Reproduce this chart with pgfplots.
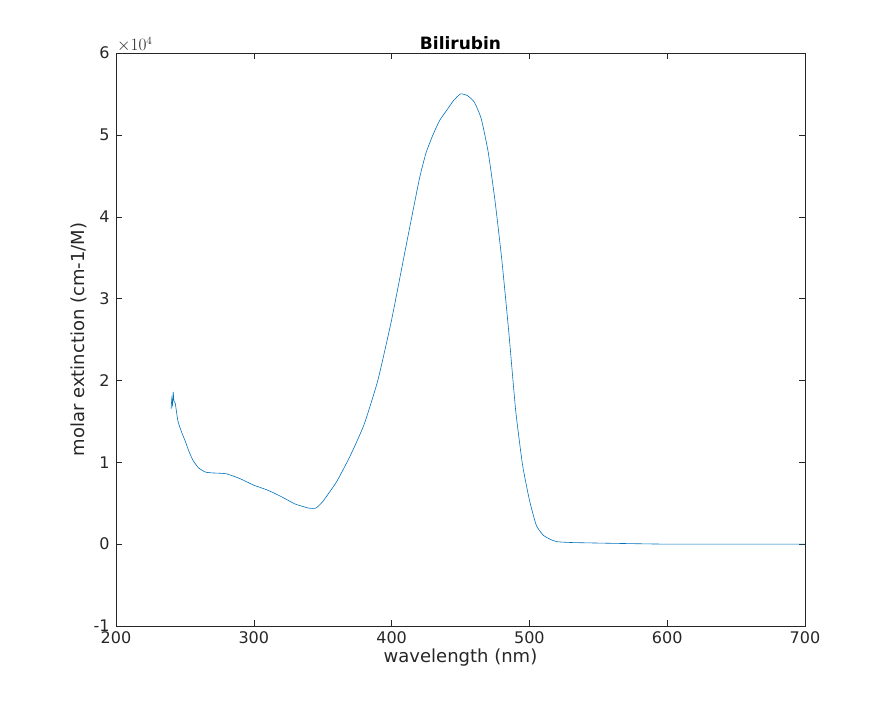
\documentclass[border=0pt]{standalone}
\usepackage{pgfplots}
\pgfplotsset{compat=1.18}
\usepackage{fontspec}
\setmainfont{DejaVu Sans}
\definecolor{mblue}{RGB}{0,114,189}
\definecolor{tgray}{RGB}{38,38,38}
\begin{document}
\begin{tikzpicture}[x=1pt,y=1pt]
\begin{axis}[
  scale only axis, width=689pt, height=573pt,
  xmin=200, xmax=700, ymin=-1, ymax=6,
  xtick={200,300,...,700}, ytick={-1,0,...,6},
  tick align=inside, tick pos=both, major tick length=6pt,
  axis line style={tgray, line width=0.5pt},
  every tick/.style={tgray},
  ticklabel style={font=\fontsize{16}{18}\selectfont, text=tgray},
  xticklabel style={yshift=-2pt},
  yticklabel style={xshift=-3pt},
  /pgf/number format/assume math mode=true,
  xlabel={wavelength (nm)}, ylabel={molar extinction (cm-1/M)},
  label style={font=\fontsize{18}{21}\selectfont, text=tgray},
  xlabel style={yshift=2pt},
  title={\textbf{Bilirubin}}, title style={font=\fontsize{17}{20}\selectfont, yshift=-6pt},
  clip=false,
]
\addplot[mblue, line width=0.6pt, smooth, tension=0.3] coordinates {
(240,1.65)(240.5,1.78)(241,1.7)(241.5,1.86)(242,1.75)(243,1.72)(245,1.5)(248,1.35)(250,1.27)(253,1.13)(256,1.02)(260,0.93)(265,0.88)(270,0.87)(280,0.86)(290,0.8)(300,0.72)(310,0.66)(320,0.58)(330,0.49)(340,0.44)(345,0.44)(350,0.52)(360,0.76)(370,1.08)(380,1.46)(390,2.0)(400,2.74)(410,3.6)(420,4.45)(425,4.78)(430,5.0)(435,5.18)(440,5.3)(445,5.42)(450,5.5)(455,5.48)(460,5.4)(465,5.2)(470,4.8)(475,4.2)(480,3.47)(485,2.6)(490,1.64)(495,0.97)(500,0.54)(505,0.23)(510,0.11)(515,0.06)(520,0.03)(530,0.02)(560,0.01)(600,0.0)(650,0.0)(700,0.0)};
\node[anchor=south west, font=\fontsize{16}{18}\selectfont, text=tgray, inner sep=1pt] at (rel axis cs:0,1) {$\times10^4$};
\end{axis}
\path (-116,-77) rectangle (775,626);
\end{tikzpicture}
\end{document}
